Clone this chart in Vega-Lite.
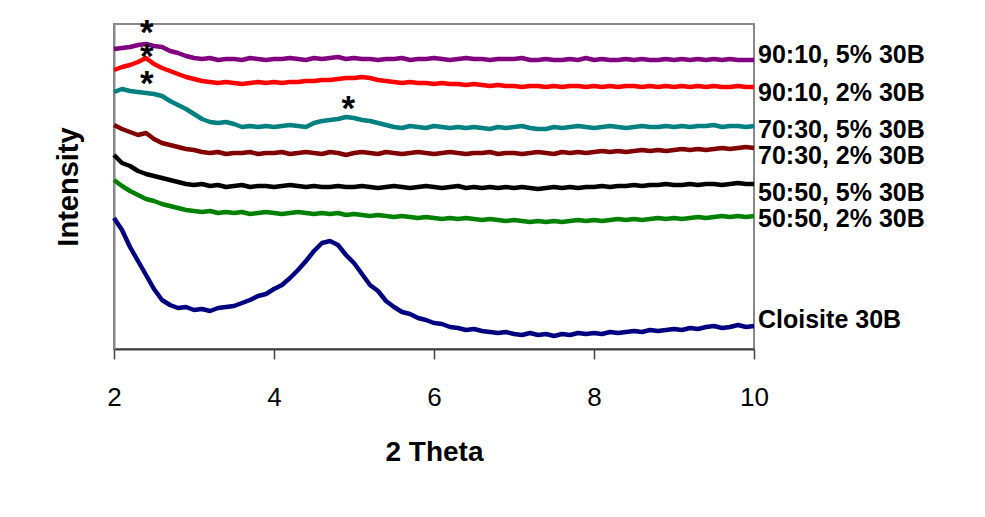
{
"$schema": "https://vega.github.io/schema/vega-lite/v6.json",
"width": 640, "height": 325,
"autosize": {"type": "none"},
"padding": {"left": 114, "top": 24, "right": 231, "bottom": 168},
"background": "white",
"config": {"font": "Liberation Sans", "view": {"stroke": "#888888", "strokeWidth": 2}},
"datasets": {
"xrd": [
{"s":"9010-5","t":2,"i":300},{"s":"9010-5","t":2.1,"i":301},{"s":"9010-5","t":2.2,"i":302},{"s":"9010-5","t":2.3,"i":304},{"s":"9010-5","t":2.4,"i":305},{"s":"9010-5","t":2.5,"i":303},{"s":"9010-5","t":2.6,"i":302},{"s":"9010-5","t":2.7,"i":298},{"s":"9010-5","t":2.8,"i":296},{"s":"9010-5","t":2.9,"i":293},
{"s":"9010-5","t":3,"i":291},{"s":"9010-5","t":3.1,"i":290},{"s":"9010-5","t":3.2,"i":291},{"s":"9010-5","t":3.3,"i":289},{"s":"9010-5","t":3.4,"i":290},{"s":"9010-5","t":3.5,"i":290},{"s":"9010-5","t":3.6,"i":289},{"s":"9010-5","t":3.7,"i":291},{"s":"9010-5","t":3.8,"i":290},{"s":"9010-5","t":3.9,"i":289},
{"s":"9010-5","t":4,"i":290},{"s":"9010-5","t":4.1,"i":290},{"s":"9010-5","t":4.2,"i":291},{"s":"9010-5","t":4.3,"i":290},{"s":"9010-5","t":4.4,"i":289},{"s":"9010-5","t":4.5,"i":291},{"s":"9010-5","t":4.6,"i":290},{"s":"9010-5","t":4.7,"i":291},{"s":"9010-5","t":4.8,"i":292},{"s":"9010-5","t":4.9,"i":290},
{"s":"9010-5","t":5,"i":291},{"s":"9010-5","t":5.1,"i":290},{"s":"9010-5","t":5.2,"i":290},{"s":"9010-5","t":5.3,"i":289},{"s":"9010-5","t":5.4,"i":290},{"s":"9010-5","t":5.5,"i":290},{"s":"9010-5","t":5.6,"i":291},{"s":"9010-5","t":5.7,"i":289},{"s":"9010-5","t":5.8,"i":290},{"s":"9010-5","t":5.9,"i":290},
{"s":"9010-5","t":6,"i":291},{"s":"9010-5","t":6.1,"i":290},{"s":"9010-5","t":6.2,"i":289},{"s":"9010-5","t":6.3,"i":290},{"s":"9010-5","t":6.4,"i":291},{"s":"9010-5","t":6.5,"i":290},{"s":"9010-5","t":6.6,"i":290},{"s":"9010-5","t":6.7,"i":289},{"s":"9010-5","t":6.8,"i":290},{"s":"9010-5","t":6.9,"i":290},
{"s":"9010-5","t":7,"i":290},{"s":"9010-5","t":7.1,"i":291},{"s":"9010-5","t":7.2,"i":289},{"s":"9010-5","t":7.3,"i":289},{"s":"9010-5","t":7.4,"i":290},{"s":"9010-5","t":7.5,"i":289},{"s":"9010-5","t":7.6,"i":289},{"s":"9010-5","t":7.7,"i":290},{"s":"9010-5","t":7.8,"i":289},{"s":"9010-5","t":7.9,"i":291},
{"s":"9010-5","t":8,"i":289},{"s":"9010-5","t":8.1,"i":290},{"s":"9010-5","t":8.2,"i":289},{"s":"9010-5","t":8.3,"i":289},{"s":"9010-5","t":8.4,"i":290},{"s":"9010-5","t":8.5,"i":289},{"s":"9010-5","t":8.6,"i":290},{"s":"9010-5","t":8.7,"i":289},{"s":"9010-5","t":8.8,"i":289},{"s":"9010-5","t":8.9,"i":290},
{"s":"9010-5","t":9,"i":289},{"s":"9010-5","t":9.1,"i":290},{"s":"9010-5","t":9.2,"i":289},{"s":"9010-5","t":9.3,"i":290},{"s":"9010-5","t":9.4,"i":289},{"s":"9010-5","t":9.5,"i":290},{"s":"9010-5","t":9.6,"i":289},{"s":"9010-5","t":9.7,"i":290},{"s":"9010-5","t":9.8,"i":289},{"s":"9010-5","t":9.9,"i":289},
{"s":"9010-5","t":10,"i":289},

{"s":"9010-2","t":2,"i":279},{"s":"9010-2","t":2.1,"i":282},{"s":"9010-2","t":2.2,"i":284},{"s":"9010-2","t":2.3,"i":287},{"s":"9010-2","t":2.4,"i":291},{"s":"9010-2","t":2.5,"i":285},{"s":"9010-2","t":2.6,"i":281},{"s":"9010-2","t":2.7,"i":278},{"s":"9010-2","t":2.8,"i":275},{"s":"9010-2","t":2.9,"i":272},
{"s":"9010-2","t":3,"i":270},{"s":"9010-2","t":3.1,"i":268},{"s":"9010-2","t":3.2,"i":267},{"s":"9010-2","t":3.3,"i":266},{"s":"9010-2","t":3.4,"i":267},{"s":"9010-2","t":3.5,"i":266},{"s":"9010-2","t":3.6,"i":265},{"s":"9010-2","t":3.7,"i":266},{"s":"9010-2","t":3.8,"i":267},{"s":"9010-2","t":3.9,"i":266},
{"s":"9010-2","t":4,"i":267},{"s":"9010-2","t":4.1,"i":266},{"s":"9010-2","t":4.2,"i":267},{"s":"9010-2","t":4.3,"i":267},{"s":"9010-2","t":4.4,"i":268},{"s":"9010-2","t":4.5,"i":268},{"s":"9010-2","t":4.6,"i":269},{"s":"9010-2","t":4.7,"i":269},{"s":"9010-2","t":4.8,"i":270},{"s":"9010-2","t":4.9,"i":271},
{"s":"9010-2","t":5,"i":271},{"s":"9010-2","t":5.1,"i":272},{"s":"9010-2","t":5.2,"i":271},{"s":"9010-2","t":5.3,"i":269},{"s":"9010-2","t":5.4,"i":268},{"s":"9010-2","t":5.5,"i":267},{"s":"9010-2","t":5.6,"i":266},{"s":"9010-2","t":5.7,"i":267},{"s":"9010-2","t":5.8,"i":266},{"s":"9010-2","t":5.9,"i":266},
{"s":"9010-2","t":6,"i":265},{"s":"9010-2","t":6.1,"i":266},{"s":"9010-2","t":6.2,"i":265},{"s":"9010-2","t":6.3,"i":265},{"s":"9010-2","t":6.4,"i":264},{"s":"9010-2","t":6.5,"i":265},{"s":"9010-2","t":6.6,"i":264},{"s":"9010-2","t":6.7,"i":263},{"s":"9010-2","t":6.8,"i":264},{"s":"9010-2","t":6.9,"i":263},
{"s":"9010-2","t":7,"i":263},{"s":"9010-2","t":7.1,"i":262},{"s":"9010-2","t":7.2,"i":263},{"s":"9010-2","t":7.3,"i":263},{"s":"9010-2","t":7.4,"i":262},{"s":"9010-2","t":7.5,"i":263},{"s":"9010-2","t":7.6,"i":262},{"s":"9010-2","t":7.7,"i":263},{"s":"9010-2","t":7.8,"i":263},{"s":"9010-2","t":7.9,"i":262},
{"s":"9010-2","t":8,"i":263},{"s":"9010-2","t":8.1,"i":262},{"s":"9010-2","t":8.2,"i":263},{"s":"9010-2","t":8.3,"i":262},{"s":"9010-2","t":8.4,"i":263},{"s":"9010-2","t":8.5,"i":263},{"s":"9010-2","t":8.6,"i":262},{"s":"9010-2","t":8.7,"i":263},{"s":"9010-2","t":8.8,"i":262},{"s":"9010-2","t":8.9,"i":263},
{"s":"9010-2","t":9,"i":262},{"s":"9010-2","t":9.1,"i":263},{"s":"9010-2","t":9.2,"i":262},{"s":"9010-2","t":9.3,"i":263},{"s":"9010-2","t":9.4,"i":262},{"s":"9010-2","t":9.5,"i":263},{"s":"9010-2","t":9.6,"i":262},{"s":"9010-2","t":9.7,"i":262},{"s":"9010-2","t":9.8,"i":263},{"s":"9010-2","t":9.9,"i":262},
{"s":"9010-2","t":10,"i":262},

{"s":"7030-5","t":2,"i":257},{"s":"7030-5","t":2.1,"i":260},{"s":"7030-5","t":2.2,"i":258},{"s":"7030-5","t":2.3,"i":257},{"s":"7030-5","t":2.4,"i":256},{"s":"7030-5","t":2.5,"i":255},{"s":"7030-5","t":2.6,"i":253},{"s":"7030-5","t":2.7,"i":248},{"s":"7030-5","t":2.8,"i":244},{"s":"7030-5","t":2.9,"i":240},
{"s":"7030-5","t":3,"i":235},{"s":"7030-5","t":3.1,"i":230},{"s":"7030-5","t":3.2,"i":227},{"s":"7030-5","t":3.3,"i":226},{"s":"7030-5","t":3.4,"i":227},{"s":"7030-5","t":3.5,"i":225},{"s":"7030-5","t":3.6,"i":222},{"s":"7030-5","t":3.7,"i":223},{"s":"7030-5","t":3.8,"i":222},{"s":"7030-5","t":3.9,"i":223},
{"s":"7030-5","t":4,"i":222},{"s":"7030-5","t":4.1,"i":223},{"s":"7030-5","t":4.2,"i":224},{"s":"7030-5","t":4.3,"i":223},{"s":"7030-5","t":4.4,"i":222},{"s":"7030-5","t":4.5,"i":226},{"s":"7030-5","t":4.6,"i":228},{"s":"7030-5","t":4.7,"i":229},{"s":"7030-5","t":4.8,"i":230},{"s":"7030-5","t":4.9,"i":232},
{"s":"7030-5","t":5,"i":231},{"s":"7030-5","t":5.1,"i":229},{"s":"7030-5","t":5.2,"i":228},{"s":"7030-5","t":5.3,"i":226},{"s":"7030-5","t":5.4,"i":224},{"s":"7030-5","t":5.5,"i":222},{"s":"7030-5","t":5.6,"i":221},{"s":"7030-5","t":5.7,"i":223},{"s":"7030-5","t":5.8,"i":222},{"s":"7030-5","t":5.9,"i":221},
{"s":"7030-5","t":6,"i":223},{"s":"7030-5","t":6.1,"i":222},{"s":"7030-5","t":6.2,"i":221},{"s":"7030-5","t":6.3,"i":222},{"s":"7030-5","t":6.4,"i":221},{"s":"7030-5","t":6.5,"i":222},{"s":"7030-5","t":6.6,"i":221},{"s":"7030-5","t":6.7,"i":220},{"s":"7030-5","t":6.8,"i":222},{"s":"7030-5","t":6.9,"i":221},
{"s":"7030-5","t":7,"i":222},{"s":"7030-5","t":7.1,"i":223},{"s":"7030-5","t":7.2,"i":221},{"s":"7030-5","t":7.3,"i":220},{"s":"7030-5","t":7.4,"i":220},{"s":"7030-5","t":7.5,"i":222},{"s":"7030-5","t":7.6,"i":221},{"s":"7030-5","t":7.7,"i":222},{"s":"7030-5","t":7.8,"i":223},{"s":"7030-5","t":7.9,"i":222},
{"s":"7030-5","t":8,"i":221},{"s":"7030-5","t":8.1,"i":222},{"s":"7030-5","t":8.2,"i":223},{"s":"7030-5","t":8.3,"i":222},{"s":"7030-5","t":8.4,"i":221},{"s":"7030-5","t":8.5,"i":222},{"s":"7030-5","t":8.6,"i":223},{"s":"7030-5","t":8.7,"i":222},{"s":"7030-5","t":8.8,"i":222},{"s":"7030-5","t":8.9,"i":223},
{"s":"7030-5","t":9,"i":222},{"s":"7030-5","t":9.1,"i":223},{"s":"7030-5","t":9.2,"i":222},{"s":"7030-5","t":9.3,"i":223},{"s":"7030-5","t":9.4,"i":223},{"s":"7030-5","t":9.5,"i":224},{"s":"7030-5","t":9.6,"i":222},{"s":"7030-5","t":9.7,"i":223},{"s":"7030-5","t":9.8,"i":223},{"s":"7030-5","t":9.9,"i":222},
{"s":"7030-5","t":10,"i":223},

{"s":"7030-2","t":2,"i":224},{"s":"7030-2","t":2.1,"i":220},{"s":"7030-2","t":2.2,"i":217},{"s":"7030-2","t":2.3,"i":214},{"s":"7030-2","t":2.4,"i":216},{"s":"7030-2","t":2.5,"i":210},{"s":"7030-2","t":2.6,"i":206},{"s":"7030-2","t":2.7,"i":204},{"s":"7030-2","t":2.8,"i":202},{"s":"7030-2","t":2.9,"i":200},
{"s":"7030-2","t":3,"i":199},{"s":"7030-2","t":3.1,"i":197},{"s":"7030-2","t":3.2,"i":196},{"s":"7030-2","t":3.3,"i":197},{"s":"7030-2","t":3.4,"i":195},{"s":"7030-2","t":3.5,"i":196},{"s":"7030-2","t":3.6,"i":196},{"s":"7030-2","t":3.7,"i":197},{"s":"7030-2","t":3.8,"i":195},{"s":"7030-2","t":3.9,"i":196},
{"s":"7030-2","t":4,"i":196},{"s":"7030-2","t":4.1,"i":197},{"s":"7030-2","t":4.2,"i":195},{"s":"7030-2","t":4.3,"i":196},{"s":"7030-2","t":4.4,"i":197},{"s":"7030-2","t":4.5,"i":196},{"s":"7030-2","t":4.6,"i":195},{"s":"7030-2","t":4.7,"i":197},{"s":"7030-2","t":4.8,"i":196},{"s":"7030-2","t":4.9,"i":194},
{"s":"7030-2","t":5,"i":196},{"s":"7030-2","t":5.1,"i":197},{"s":"7030-2","t":5.2,"i":196},{"s":"7030-2","t":5.3,"i":195},{"s":"7030-2","t":5.4,"i":197},{"s":"7030-2","t":5.5,"i":196},{"s":"7030-2","t":5.6,"i":195},{"s":"7030-2","t":5.7,"i":196},{"s":"7030-2","t":5.8,"i":197},{"s":"7030-2","t":5.9,"i":196},
{"s":"7030-2","t":6,"i":195},{"s":"7030-2","t":6.1,"i":196},{"s":"7030-2","t":6.2,"i":197},{"s":"7030-2","t":6.3,"i":196},{"s":"7030-2","t":6.4,"i":195},{"s":"7030-2","t":6.5,"i":196},{"s":"7030-2","t":6.6,"i":196},{"s":"7030-2","t":6.7,"i":197},{"s":"7030-2","t":6.8,"i":195},{"s":"7030-2","t":6.9,"i":196},
{"s":"7030-2","t":7,"i":196},{"s":"7030-2","t":7.1,"i":195},{"s":"7030-2","t":7.2,"i":196},{"s":"7030-2","t":7.3,"i":197},{"s":"7030-2","t":7.4,"i":196},{"s":"7030-2","t":7.5,"i":195},{"s":"7030-2","t":7.6,"i":197},{"s":"7030-2","t":7.7,"i":196},{"s":"7030-2","t":7.8,"i":197},{"s":"7030-2","t":7.9,"i":196},
{"s":"7030-2","t":8,"i":197},{"s":"7030-2","t":8.1,"i":198},{"s":"7030-2","t":8.2,"i":197},{"s":"7030-2","t":8.3,"i":198},{"s":"7030-2","t":8.4,"i":197},{"s":"7030-2","t":8.5,"i":198},{"s":"7030-2","t":8.6,"i":199},{"s":"7030-2","t":8.7,"i":198},{"s":"7030-2","t":8.8,"i":199},{"s":"7030-2","t":8.9,"i":198},
{"s":"7030-2","t":9,"i":199},{"s":"7030-2","t":9.1,"i":200},{"s":"7030-2","t":9.2,"i":199},{"s":"7030-2","t":9.3,"i":200},{"s":"7030-2","t":9.4,"i":199},{"s":"7030-2","t":9.5,"i":200},{"s":"7030-2","t":9.6,"i":201},{"s":"7030-2","t":9.7,"i":200},{"s":"7030-2","t":9.8,"i":201},{"s":"7030-2","t":9.9,"i":202},
{"s":"7030-2","t":10,"i":201},

{"s":"5050-5","t":2,"i":194},{"s":"5050-5","t":2.1,"i":186},{"s":"5050-5","t":2.2,"i":183},{"s":"5050-5","t":2.3,"i":178},{"s":"5050-5","t":2.4,"i":175},{"s":"5050-5","t":2.5,"i":173},{"s":"5050-5","t":2.6,"i":171},{"s":"5050-5","t":2.7,"i":169},{"s":"5050-5","t":2.8,"i":167},{"s":"5050-5","t":2.9,"i":165},
{"s":"5050-5","t":3,"i":164},{"s":"5050-5","t":3.1,"i":165},{"s":"5050-5","t":3.2,"i":163},{"s":"5050-5","t":3.3,"i":164},{"s":"5050-5","t":3.4,"i":162},{"s":"5050-5","t":3.5,"i":163},{"s":"5050-5","t":3.6,"i":164},{"s":"5050-5","t":3.7,"i":162},{"s":"5050-5","t":3.8,"i":163},{"s":"5050-5","t":3.9,"i":163},
{"s":"5050-5","t":4,"i":162},{"s":"5050-5","t":4.1,"i":163},{"s":"5050-5","t":4.2,"i":164},{"s":"5050-5","t":4.3,"i":163},{"s":"5050-5","t":4.4,"i":162},{"s":"5050-5","t":4.5,"i":163},{"s":"5050-5","t":4.6,"i":162},{"s":"5050-5","t":4.7,"i":162},{"s":"5050-5","t":4.8,"i":163},{"s":"5050-5","t":4.9,"i":162},
{"s":"5050-5","t":5,"i":162},{"s":"5050-5","t":5.1,"i":163},{"s":"5050-5","t":5.2,"i":162},{"s":"5050-5","t":5.3,"i":161},{"s":"5050-5","t":5.4,"i":162},{"s":"5050-5","t":5.5,"i":163},{"s":"5050-5","t":5.6,"i":162},{"s":"5050-5","t":5.7,"i":161},{"s":"5050-5","t":5.8,"i":162},{"s":"5050-5","t":5.9,"i":163},
{"s":"5050-5","t":6,"i":162},{"s":"5050-5","t":6.1,"i":161},{"s":"5050-5","t":6.2,"i":162},{"s":"5050-5","t":6.3,"i":163},{"s":"5050-5","t":6.4,"i":161},{"s":"5050-5","t":6.5,"i":162},{"s":"5050-5","t":6.6,"i":161},{"s":"5050-5","t":6.7,"i":162},{"s":"5050-5","t":6.8,"i":161},{"s":"5050-5","t":6.9,"i":162},
{"s":"5050-5","t":7,"i":161},{"s":"5050-5","t":7.1,"i":162},{"s":"5050-5","t":7.2,"i":161},{"s":"5050-5","t":7.3,"i":160},{"s":"5050-5","t":7.4,"i":161},{"s":"5050-5","t":7.5,"i":162},{"s":"5050-5","t":7.6,"i":161},{"s":"5050-5","t":7.7,"i":162},{"s":"5050-5","t":7.8,"i":161},{"s":"5050-5","t":7.9,"i":162},
{"s":"5050-5","t":8,"i":162},{"s":"5050-5","t":8.1,"i":163},{"s":"5050-5","t":8.2,"i":162},{"s":"5050-5","t":8.3,"i":163},{"s":"5050-5","t":8.4,"i":163},{"s":"5050-5","t":8.5,"i":164},{"s":"5050-5","t":8.6,"i":163},{"s":"5050-5","t":8.7,"i":164},{"s":"5050-5","t":8.8,"i":164},{"s":"5050-5","t":8.9,"i":165},
{"s":"5050-5","t":9,"i":164},{"s":"5050-5","t":9.1,"i":164},{"s":"5050-5","t":9.2,"i":165},{"s":"5050-5","t":9.3,"i":164},{"s":"5050-5","t":9.4,"i":165},{"s":"5050-5","t":9.5,"i":165},{"s":"5050-5","t":9.6,"i":164},{"s":"5050-5","t":9.7,"i":165},{"s":"5050-5","t":9.8,"i":166},{"s":"5050-5","t":9.9,"i":165},
{"s":"5050-5","t":10,"i":165},

{"s":"5050-2","t":2,"i":169},{"s":"5050-2","t":2.1,"i":163},{"s":"5050-2","t":2.2,"i":158},{"s":"5050-2","t":2.3,"i":154},{"s":"5050-2","t":2.4,"i":150},{"s":"5050-2","t":2.5,"i":148},{"s":"5050-2","t":2.6,"i":145},{"s":"5050-2","t":2.7,"i":143},{"s":"5050-2","t":2.8,"i":141},{"s":"5050-2","t":2.9,"i":139},
{"s":"5050-2","t":3,"i":138},{"s":"5050-2","t":3.1,"i":137},{"s":"5050-2","t":3.2,"i":138},{"s":"5050-2","t":3.3,"i":136},{"s":"5050-2","t":3.4,"i":137},{"s":"5050-2","t":3.5,"i":136},{"s":"5050-2","t":3.6,"i":137},{"s":"5050-2","t":3.7,"i":135},{"s":"5050-2","t":3.8,"i":136},{"s":"5050-2","t":3.9,"i":137},
{"s":"5050-2","t":4,"i":136},{"s":"5050-2","t":4.1,"i":135},{"s":"5050-2","t":4.2,"i":136},{"s":"5050-2","t":4.3,"i":137},{"s":"5050-2","t":4.4,"i":136},{"s":"5050-2","t":4.5,"i":135},{"s":"5050-2","t":4.6,"i":136},{"s":"5050-2","t":4.7,"i":135},{"s":"5050-2","t":4.8,"i":136},{"s":"5050-2","t":4.9,"i":134},
{"s":"5050-2","t":5,"i":135},{"s":"5050-2","t":5.1,"i":134},{"s":"5050-2","t":5.2,"i":133},{"s":"5050-2","t":5.3,"i":134},{"s":"5050-2","t":5.4,"i":133},{"s":"5050-2","t":5.5,"i":132},{"s":"5050-2","t":5.6,"i":133},{"s":"5050-2","t":5.7,"i":132},{"s":"5050-2","t":5.8,"i":131},{"s":"5050-2","t":5.9,"i":132},
{"s":"5050-2","t":6,"i":131},{"s":"5050-2","t":6.1,"i":130},{"s":"5050-2","t":6.2,"i":131},{"s":"5050-2","t":6.3,"i":130},{"s":"5050-2","t":6.4,"i":131},{"s":"5050-2","t":6.5,"i":130},{"s":"5050-2","t":6.6,"i":129},{"s":"5050-2","t":6.7,"i":130},{"s":"5050-2","t":6.8,"i":129},{"s":"5050-2","t":6.9,"i":128},
{"s":"5050-2","t":7,"i":129},{"s":"5050-2","t":7.1,"i":128},{"s":"5050-2","t":7.2,"i":127},{"s":"5050-2","t":7.3,"i":128},{"s":"5050-2","t":7.4,"i":127},{"s":"5050-2","t":7.5,"i":128},{"s":"5050-2","t":7.6,"i":127},{"s":"5050-2","t":7.7,"i":128},{"s":"5050-2","t":7.8,"i":129},{"s":"5050-2","t":7.9,"i":128},
{"s":"5050-2","t":8,"i":129},{"s":"5050-2","t":8.1,"i":128},{"s":"5050-2","t":8.2,"i":129},{"s":"5050-2","t":8.3,"i":130},{"s":"5050-2","t":8.4,"i":129},{"s":"5050-2","t":8.5,"i":130},{"s":"5050-2","t":8.6,"i":129},{"s":"5050-2","t":8.7,"i":130},{"s":"5050-2","t":8.8,"i":131},{"s":"5050-2","t":8.9,"i":130},
{"s":"5050-2","t":9,"i":131},{"s":"5050-2","t":9.1,"i":130},{"s":"5050-2","t":9.2,"i":131},{"s":"5050-2","t":9.3,"i":132},{"s":"5050-2","t":9.4,"i":131},{"s":"5050-2","t":9.5,"i":132},{"s":"5050-2","t":9.6,"i":133},{"s":"5050-2","t":9.7,"i":132},{"s":"5050-2","t":9.8,"i":133},{"s":"5050-2","t":9.9,"i":132},
{"s":"5050-2","t":10,"i":133},

{"s":"C30B","t":2,"i":131},{"s":"C30B","t":2.1,"i":119},{"s":"C30B","t":2.2,"i":102},{"s":"C30B","t":2.3,"i":88},{"s":"C30B","t":2.4,"i":74},{"s":"C30B","t":2.5,"i":60},{"s":"C30B","t":2.6,"i":49},{"s":"C30B","t":2.7,"i":44},{"s":"C30B","t":2.8,"i":41},{"s":"C30B","t":2.9,"i":42},
{"s":"C30B","t":3,"i":39},{"s":"C30B","t":3.1,"i":40},{"s":"C30B","t":3.2,"i":38},{"s":"C30B","t":3.3,"i":41},{"s":"C30B","t":3.4,"i":42},{"s":"C30B","t":3.5,"i":43},{"s":"C30B","t":3.6,"i":46},{"s":"C30B","t":3.7,"i":49},{"s":"C30B","t":3.8,"i":53},{"s":"C30B","t":3.9,"i":55},
{"s":"C30B","t":4,"i":60},{"s":"C30B","t":4.1,"i":64},{"s":"C30B","t":4.2,"i":71},{"s":"C30B","t":4.3,"i":79},{"s":"C30B","t":4.4,"i":88},{"s":"C30B","t":4.5,"i":98},{"s":"C30B","t":4.6,"i":106},{"s":"C30B","t":4.7,"i":108},{"s":"C30B","t":4.8,"i":104},{"s":"C30B","t":4.9,"i":94},
{"s":"C30B","t":5,"i":86},{"s":"C30B","t":5.1,"i":75},{"s":"C30B","t":5.2,"i":64},{"s":"C30B","t":5.3,"i":58},{"s":"C30B","t":5.4,"i":48},{"s":"C30B","t":5.5,"i":42},{"s":"C30B","t":5.6,"i":37},{"s":"C30B","t":5.7,"i":35},{"s":"C30B","t":5.8,"i":31},{"s":"C30B","t":5.9,"i":29},
{"s":"C30B","t":6,"i":26},{"s":"C30B","t":6.1,"i":25},{"s":"C30B","t":6.2,"i":22},{"s":"C30B","t":6.3,"i":21},{"s":"C30B","t":6.4,"i":19},{"s":"C30B","t":6.5,"i":20},{"s":"C30B","t":6.6,"i":18},{"s":"C30B","t":6.7,"i":17},{"s":"C30B","t":6.8,"i":16},{"s":"C30B","t":6.9,"i":17},
{"s":"C30B","t":7,"i":15},{"s":"C30B","t":7.1,"i":14},{"s":"C30B","t":7.2,"i":16},{"s":"C30B","t":7.3,"i":14},{"s":"C30B","t":7.4,"i":15},{"s":"C30B","t":7.5,"i":13},{"s":"C30B","t":7.6,"i":15},{"s":"C30B","t":7.7,"i":14},{"s":"C30B","t":7.8,"i":16},{"s":"C30B","t":7.9,"i":15},
{"s":"C30B","t":8,"i":16},{"s":"C30B","t":8.1,"i":15},{"s":"C30B","t":8.2,"i":17},{"s":"C30B","t":8.3,"i":16},{"s":"C30B","t":8.4,"i":17},{"s":"C30B","t":8.5,"i":18},{"s":"C30B","t":8.6,"i":17},{"s":"C30B","t":8.7,"i":19},{"s":"C30B","t":8.8,"i":18},{"s":"C30B","t":8.9,"i":19},
{"s":"C30B","t":9,"i":20},{"s":"C30B","t":9.1,"i":19},{"s":"C30B","t":9.2,"i":21},{"s":"C30B","t":9.3,"i":20},{"s":"C30B","t":9.4,"i":22},{"s":"C30B","t":9.5,"i":23},{"s":"C30B","t":9.6,"i":21},{"s":"C30B","t":9.7,"i":22},{"s":"C30B","t":9.8,"i":24},{"s":"C30B","t":9.9,"i":22},
{"s":"C30B","t":10,"i":23}
],
"labels": [
{"label":"90:10, 5% 30B","t":10,"i":294},
{"label":"90:10, 2% 30B","t":10,"i":256},
{"label":"70:30, 5% 30B","t":10,"i":219},
{"label":"70:30, 2% 30B","t":10,"i":193},
{"label":"50:50, 5% 30B","t":10,"i":156},
{"label":"50:50, 2% 30B","t":10,"i":130},
{"label":"Cloisite 30B","t":10,"i":29}
],
"stars": [
{"m":"*","t":2.41,"i":320},
{"m":"*","t":2.41,"i":296},
{"m":"*","t":2.41,"i":269},
{"m":"*","t":4.93,"i":244}
]
},
"layer": [
{
"data": {"name": "xrd"},
"mark": {"type": "line", "strokeWidth": 4.5, "strokeJoin": "round"},
"encoding": {
"x": {"field": "t", "type": "quantitative", "scale": {"domain": [2, 10], "nice": false, "zero": false},
"axis": {"values": [2, 4, 6, 8, 10], "format": "d", "grid": false, "tickSize": 10, "tickColor": "#404040", "tickWidth": 1.5, "domainColor": "#404040", "domainWidth": 2, "labelFontSize": 26, "labelColor": "black", "labelPadding": 25, "labelFlush": false, "title": "2 Theta", "titleFontSize": 28, "titleFontWeight": "bold", "titleColor": "black", "titlePadding": 28}},
"y": {"field": "i", "type": "quantitative", "scale": {"domain": [0, 325], "nice": false},
"axis": {"grid": false, "ticks": false, "labels": false, "domainColor": "#888888", "domainWidth": 2, "title": "Intensity", "titleFontSize": 29, "titleFontWeight": "bold", "titleColor": "black", "titlePadding": 31}},
"color": {"field": "s", "type": "nominal", "legend": null,
"scale": {"domain": ["9010-5", "9010-2", "7030-5", "7030-2", "5050-5", "5050-2", "C30B"], "range": ["#800080", "#FF0000", "#008080", "#800000", "#000000", "#008000", "#000080"]}}
}
},
{
"data": {"name": "labels"},
"mark": {"type": "text", "align": "left", "baseline": "middle", "dx": 4, "fontSize": 25, "fontWeight": "bold", "color": "black"},
"encoding": {
"x": {"field": "t", "type": "quantitative"},
"y": {"field": "i", "type": "quantitative"},
"text": {"field": "label"}
}
},
{
"data": {"name": "stars"},
"mark": {"type": "text", "align": "center", "baseline": "alphabetic", "dy": 15, "fontSize": 35, "fontWeight": "bold", "color": "black"},
"encoding": {
"x": {"field": "t", "type": "quantitative"},
"y": {"field": "i", "type": "quantitative"},
"text": {"field": "m"}
}
}
]
}
